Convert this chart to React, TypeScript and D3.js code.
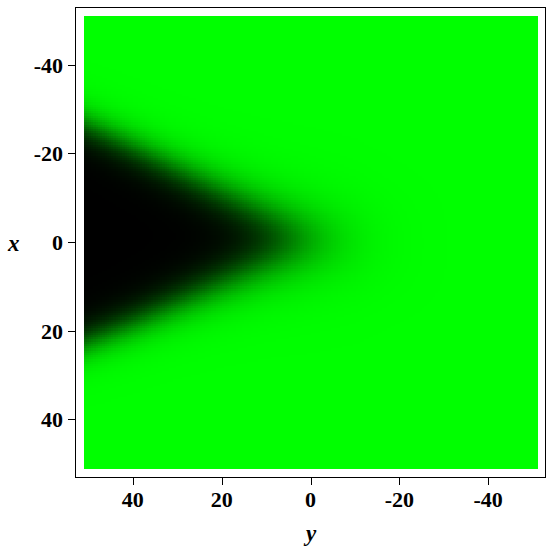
import React, { useEffect, useRef } from "react";
import * as d3 from "d3";

// tick labels
const xTicks = [-40, -20, 0, 20, 40]; // vertical axis, labelled x
const yTicks = [40, 20, 0, -20, -40]; // horizontal axis, labelled y
const plotRange = [-51, 51];

// edges of the dark wedge, at these y values
const yKnots = [51, 40, 30, 20, 10, 0, -10];
const upperEdge = [-27.3, -22.0, -17.0, -12.0, -7.0, -2.0, 3.0];
const lowerEdge = [23.0, 18.5, 14.0, 9.5, 5.0, 0.6, -3.8];
const edgeBlur = [2.3, 2.5, 2.7, 3.0, 3.4, 3.9, 4.3];

const step = 0.5;

export default function App() {
  const ref = useRef<SVGSVGElement>(null);

  useEffect(() => {
    const svg = d3.select(ref.current);
    svg.selectAll("*").remove();

    // y runs right to left, x runs top to bottom
    const sx = d3.scaleLinear().domain([plotRange[1], plotRange[0]]).range([84, 537]);
    const sy = d3.scaleLinear().domain([plotRange[0], plotRange[1]]).range([16, 468]);

    const up = d3.scaleLinear().domain(yKnots).range(upperEdge);
    const lo = d3.scaleLinear().domain(yKnots).range(lowerEdge);
    const blur = d3.scaleLinear().domain(yKnots).range(edgeBlur).clamp(true);
    const sig = (t: number) => 1 / (1 + Math.exp(-t));
    const color = d3.scaleLinear<string>().domain([0, 1]).range(["#00ff00", "#000000"]);

    const ys = d3.range(plotRange[0], plotRange[1], step);
    const xs = d3.range(plotRange[0], plotRange[1], step);
    const cells: { y: number; x: number; d: number }[] = [];
    ys.forEach((y) => {
      const u = up(y), l = lo(y), w = blur(y);
      xs.forEach((x) => {
        const d = sig((x - u) / w) * sig((l - x) / w);
        cells.push({ y, x, d });
      });
    });

    const cw = Math.abs(sx(step) - sx(0));
    const ch = Math.abs(sy(step) - sy(0));

    svg
      .append("g")
      .attr("shape-rendering", "crispEdges")
      .selectAll("rect")
      .data(cells)
      .enter()
      .append("rect")
      .attr("x", (c) => sx(c.y + step))
      .attr("y", (c) => sy(c.x))
      .attr("width", cw + 0.6)
      .attr("height", ch + 0.6)
      .attr("fill", (c) => color(c.d));

    // frame
    svg
      .append("rect")
      .attr("x", 75.5)
      .attr("y", 7.5)
      .attr("width", 470)
      .attr("height", 470)
      .attr("fill", "none")
      .attr("stroke", "#000")
      .attr("stroke-width", 1);

    const font = "'Liberation Serif', 'Times New Roman', serif";

    // vertical axis (x)
    const left = svg.append("g");
    xTicks.forEach((t) => {
      left
        .append("line")
        .attr("x1", 68)
        .attr("x2", 75.5)
        .attr("y1", Math.round(sy(t)) + 0.5)
        .attr("y2", Math.round(sy(t)) + 0.5)
        .attr("stroke", "#000");
      left
        .append("text")
        .attr("x", 63)
        .attr("y", sy(t) + 8)
        .attr("text-anchor", "end")
        .attr("font-family", font)
        .attr("font-weight", "bold")
        .attr("font-size", 22)
        .text(t);
    });

    // horizontal axis (y)
    const bottom = svg.append("g");
    yTicks.forEach((t) => {
      bottom
        .append("line")
        .attr("x1", Math.round(sx(t)) + 0.5)
        .attr("x2", Math.round(sx(t)) + 0.5)
        .attr("y1", 477.5)
        .attr("y2", 485)
        .attr("stroke", "#000");
      bottom
        .append("text")
        .attr("x", sx(t))
        .attr("y", 507)
        .attr("text-anchor", "middle")
        .attr("font-family", font)
        .attr("font-weight", "bold")
        .attr("font-size", 22)
        .text(t);
    });

    svg
      .append("text")
      .attr("x", 8)
      .attr("y", 251)
      .attr("font-family", font)
      .attr("font-weight", "bold")
      .attr("font-style", "italic")
      .attr("font-size", 23)
      .text("x");

    svg
      .append("text")
      .attr("x", 311)
      .attr("y", 541)
      .attr("text-anchor", "middle")
      .attr("font-family", font)
      .attr("font-weight", "bold")
      .attr("font-style", "italic")
      .attr("font-size", 23)
      .text("y");
  }, []);

  return (
    <svg
      ref={ref}
      width={549}
      height={549}
      style={{ position: "absolute", left: 0, top: 0, background: "#fff" }}
    />
  );
}
